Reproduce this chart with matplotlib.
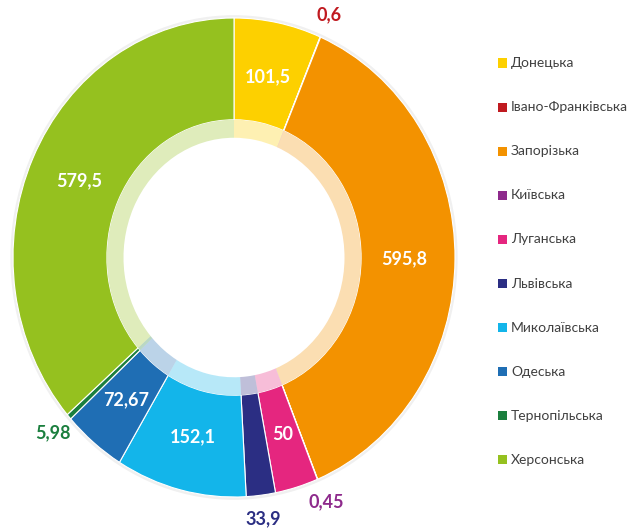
import matplotlib
matplotlib.use("Agg")
import matplotlib.pyplot as plt
import numpy as np
from matplotlib.patches import Rectangle

regions = ["Донецька", "Івано-Франківська", "Запорізька", "Київська", "Луганська",
           "Львівська", "Миколаївська", "Одеська", "Тернопільська", "Херсонська"]
values = [101.5, 0.6, 595.8, 0.45, 50, 33.9, 152.1, 72.67, 5.98, 579.5]
value_labels = ["101,5", "0,6", "595,8", "0,45", "50", "33,9", "152,1", "72,67", "5,98", "579,5"]
colors = ["#FDD000", "#C01A20", "#F39200", "#8E2A8C", "#E5267F",
          "#2B2E83", "#13B5EA", "#1F6EB4", "#1B7F3E", "#95C11F"]
outside = [False, True, False, True, False, True, False, False, True, False]

plt.rcParams['font.family'] = ['Lato', 'DejaVu Sans']

W, H = 633, 528
fig = plt.figure(figsize=(W / 100, H / 100), dpi=100)
# ring centre and radii in pixels (top-down)
cx, cy, rx, ry = 234, 257.5, 221, 239.5
lim = 1.02
ax = fig.add_axes([(cx - rx * lim) / W, 1 - (cy + ry * lim) / H,
                   2 * rx * lim / W, 2 * ry * lim / H])

# soft shadow behind the ring
ax.pie([1], colors=["#000000"], radius=1.012, startangle=90,
       wedgeprops=dict(width=0.03, edgecolor="none", alpha=0.06))
wedges, _ = ax.pie(values, colors=colors, startangle=90, counterclock=False,
                   radius=1.0, wedgeprops=dict(width=0.425, edgecolor="white", linewidth=0.8))
inner, _ = ax.pie(values, colors=colors, startangle=90, counterclock=False,
                  radius=0.575, wedgeprops=dict(width=0.075, edgecolor="none", alpha=0.3))
ax.set_aspect('auto')
ax.set_xlim(-lim, lim)
ax.set_ylim(-lim, lim)
ax.axis('off')

for w, lab, out, c in zip(wedges, value_labels, outside, colors):
    mid = np.deg2rad((w.theta1 + w.theta2) / 2)
    r = 1.1 if out else 0.77
    col = c if out else "white"
    ax.text(r * np.cos(mid), r * np.sin(mid), lab, ha="center", va="center",
            fontsize=13, fontweight="bold", color=col)

# legend (manual)
leg_y0 = 63
dy = 44.1
for i, (name, c) in enumerate(zip(regions, colors)):
    yc = leg_y0 + i * dy
    fig.add_artist(Rectangle(((498) / W, 1 - (yc + 4.5) / H), 9 / W, 9 / H,
                             transform=fig.transFigure, facecolor=c, edgecolor="none"))
    fig.text(511 / W, 1 - yc / H, name, ha="left", va="center", fontsize=10, color="#404040")

fig.savefig("out.png", dpi=100, facecolor="white")
